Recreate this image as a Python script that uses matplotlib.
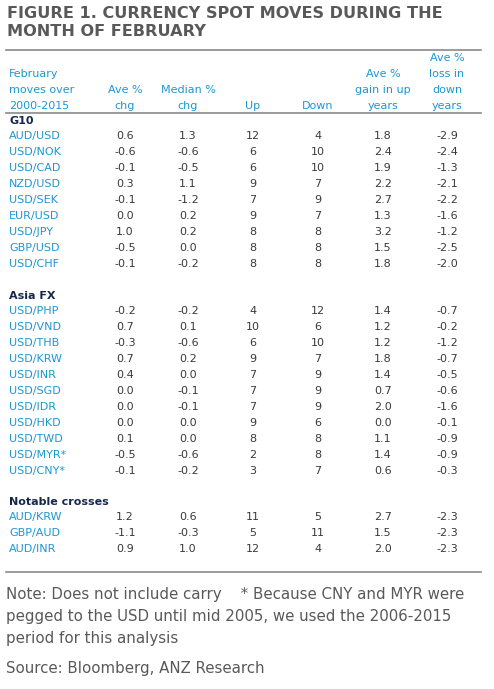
import matplotlib.pyplot as plt

W, H = 494, 689

headers = [['February', 'moves over', '2000-2015'], ['Ave %', 'chg'], ['Median %', 'chg'],
           ['Up'], ['Down'], ['Ave %', 'gain in up', 'years'], ['Ave %', 'loss in', 'down', 'years']]

g10_pairs = ['AUD/USD', 'USD/NOK', 'USD/CAD', 'NZD/USD', 'USD/SEK', 'EUR/USD', 'USD/JPY', 'GBP/USD', 'USD/CHF']
g10_ave = ['0.6', '-0.6', '-0.1', '0.3', '-0.1', '0.0', '1.0', '-0.5', '-0.1']
g10_med = ['1.3', '-0.6', '-0.5', '1.1', '-1.2', '0.2', '0.2', '0.0', '-0.2']
g10_up = ['12', '6', '6', '9', '7', '9', '8', '8', '8']
g10_down = ['4', '10', '10', '7', '9', '7', '8', '8', '8']
g10_gain = ['1.8', '2.4', '1.9', '2.2', '2.7', '1.3', '3.2', '1.5', '1.8']
g10_loss = ['-2.9', '-2.4', '-1.3', '-2.1', '-2.2', '-1.6', '-1.2', '-2.5', '-2.0']

asia_pairs = ['USD/PHP', 'USD/VND', 'USD/THB', 'USD/KRW', 'USD/INR', 'USD/SGD', 'USD/IDR', 'USD/HKD', 'USD/TWD', 'USD/MYR*', 'USD/CNY*']
asia_ave = ['-0.2', '0.7', '-0.3', '0.7', '0.4', '0.0', '0.0', '0.0', '0.1', '-0.5', '-0.1']
asia_med = ['-0.2', '0.1', '-0.6', '0.2', '0.0', '-0.1', '-0.1', '0.0', '0.0', '-0.6', '-0.2']
asia_up = ['4', '10', '6', '9', '7', '7', '7', '9', '8', '2', '3']
asia_down = ['12', '6', '10', '7', '9', '9', '9', '6', '8', '8', '7']
asia_gain = ['1.4', '1.2', '1.2', '1.8', '1.4', '0.7', '2.0', '0.0', '1.1', '1.4', '0.6']
asia_loss = ['-0.7', '-0.2', '-1.2', '-0.7', '-0.5', '-0.6', '-1.6', '-0.1', '-0.9', '-0.9', '-0.3']

cross_pairs = ['AUD/KRW', 'GBP/AUD', 'AUD/INR']
cross_ave = ['1.2', '-1.1', '0.9']
cross_med = ['0.6', '-0.3', '1.0']
cross_up = ['11', '5', '12']
cross_down = ['5', '11', '4']
cross_gain = ['2.7', '1.5', '2.0']
cross_loss = ['-2.3', '-2.3', '-2.3']

sections = [
    ('G10', 121, g10_pairs, [g10_ave, g10_med, g10_up, g10_down, g10_gain, g10_loss]),
    ('Asia FX', 296, asia_pairs, [asia_ave, asia_med, asia_up, asia_down, asia_gain, asia_loss]),
    ('Notable crosses', 502, cross_pairs, [cross_ave, cross_med, cross_up, cross_down, cross_gain, cross_loss]),
]

blue = '#1e96d2'
navy = '#16284a'
grey = '#595959'
val_c = '#3a3a3a'
col_x = [125, 188, 253, 318, 383, 447]
step = 16

plt.rcParams['font.family'] = ['DejaVu Sans']
fig = plt.figure(figsize=(W / 100, H / 100), dpi=100)


def t(x, y, s, **kw):
    fig.text(x / W, 1 - y / H, s, va='center', **kw)


def rule(y):
    fig.add_artist(plt.Line2D([6 / W, 481 / W], [1 - y / H] * 2, color='#8a8a8a', lw=1.2))


t(7, 13, 'FIGURE 1. CURRENCY SPOT MOVES DURING THE', fontsize=11.6, fontweight='bold', color=grey)
t(7, 32, 'MONTH OF FEBRUARY', fontsize=11.6, fontweight='bold', color=grey)
rule(50)

# header, bottom-aligned at y=106
for i, lines in enumerate(headers):
    n = len(lines)
    for j, s in enumerate(lines):
        y = 106 - (n - 1 - j) * 16
        if i == 0:
            t(9, y, s, fontsize=8, color=blue)
        else:
            t(col_x[i - 1], y, s, fontsize=8, color=blue, ha='center')
rule(113)

for name, y0, pairs, cols in sections:
    t(9, y0, name, fontsize=8, fontweight='bold', color=navy)
    for r, p in enumerate(pairs):
        y = y0 + 15 + r * step
        t(9, y, p, fontsize=8, color=blue)
        for c, vals in enumerate(cols):
            t(col_x[c], y, vals[r], fontsize=8, color=val_c, ha='center')

rule(572)
note_kw = dict(fontsize=10.8, color=grey)
t(6, 595, 'Note: Does not include carry    * Because CNY and MYR were', **note_kw)
t(6, 617, 'pegged to the USD until mid 2005, we used the 2006-2015', **note_kw)
t(6, 638, 'period for this analysis', **note_kw)
t(6, 668, 'Source: Bloomberg, ANZ Research', **note_kw)

fig.savefig('out.png', dpi=100)
